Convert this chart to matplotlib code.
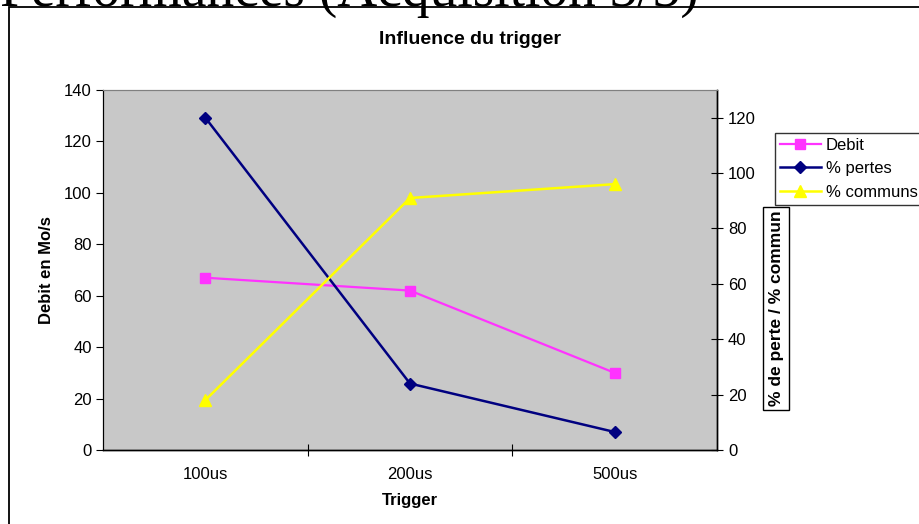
import matplotlib
matplotlib.use("Agg")
import matplotlib.pyplot as plt
from matplotlib.patches import Rectangle

# data
triggers = ["100us", "200us", "500us"]
debit = [67, 62, 30]          # left axis, Mo/s
pertes = [120, 24, 6.5]       # right axis, %
communs = [18, 91, 96]        # right axis, %

left_ticks = [0, 20, 40, 60, 80, 100, 120, 140]
right_ticks = [0, 20, 40, 60, 80, 100, 120]

plt.rcParams["font.family"] = ["Liberation Sans", "DejaVu Sans"]

W, H = 919, 524
fig = plt.figure(figsize=(W / 100, H / 100), dpi=100)

# slide title, cut at the top
fig.text(0.0, 1 - 6 / H, "Performances (Acquisition 3/3)", family="Liberation Serif",
         fontsize=40, ha="left", va="baseline")

# chart frame
fig.add_artist(Rectangle((9 / W, -0.1), 1.2, 1 - 7 / H + 0.1, transform=fig.transFigure,
                         fill=False, edgecolor="black", linewidth=1.3))

ax = fig.add_axes([103 / W, 1 - 450 / H, 614 / W, 360 / H])
ax.set_facecolor("#c8c8c8")
ax2 = ax.twinx()

x = list(range(len(triggers)))
ax.plot(x, debit, color="#ff33ff", marker="s", markersize=7, linewidth=1.6, label="Debit")
ax2.plot(x, pertes, color="#000080", marker="D", markersize=6, linewidth=1.8, label="% pertes")
ax2.plot(x, communs, color="#ffff00", marker="^", markersize=9, linewidth=1.8, label="% communs")

ax.set_xlim(-0.5, 2.5)
ax.set_ylim(0, 140)
ax2.set_ylim(0, 130)
ax.set_yticks(left_ticks)
ax2.set_yticks(right_ticks)
ax.set_xticks([0.5, 1.5])
ax.set_xticklabels([])
ax.set_xticks(x, minor=True)
ax.set_xticklabels(triggers, minor=True, fontsize=12)
ax.tick_params(axis="x", which="major", direction="inout", length=8, width=0.8)
ax.tick_params(axis="x", which="minor", length=0, pad=12)
ax.tick_params(axis="y", direction="out", length=5, width=0.8, labelsize=12, pad=3)
ax2.tick_params(axis="y", direction="inout", length=8, width=0.8, labelsize=12, pad=4)

for a in (ax, ax2):
    a.spines["top"].set_color("#808080")
    a.spines["left"].set_linewidth(0.8)
    a.spines["bottom"].set_linewidth(1.0)
    a.spines["right"].set_linewidth(1.0)

ax.set_ylabel("Debit en Mo/s", fontsize=12, fontweight="bold", labelpad=7)
ax.set_xlabel("Trigger", fontsize=12, fontweight="bold", labelpad=8)

fig.text(470 / W, 1 - 40 / H, "Influence du trigger", fontsize=14, fontweight="bold",
         ha="center", va="center")

# legend box, running past the right edge
h1, l1 = ax.get_legend_handles_labels()
h2, l2 = ax2.get_legend_handles_labels()
leg = fig.legend(h1 + h2, l1 + l2, loc="upper left", bbox_to_anchor=(775 / W, 1 - 133 / H),
                 fontsize=12, frameon=True, fancybox=False, edgecolor="black",
                 borderpad=0.3, labelspacing=0.5, handlelength=2.45, handletextpad=0.3,
                 borderaxespad=0)
leg.get_frame().set_linewidth(1.0)

# boxed right axis title
box = Rectangle((763 / W, 1 - 410 / H), 26 / W, 203 / H, transform=fig.transFigure,
                facecolor="white", edgecolor="black", linewidth=1.0)
fig.add_artist(box)
t = fig.text(776 / W, 1 - 406 / H, "% de perte / % commun", rotation=90, fontsize=12.5,
             fontweight="bold", ha="center", va="bottom")
t.set_clip_path(box)

fig.savefig("out.png", dpi=100)
